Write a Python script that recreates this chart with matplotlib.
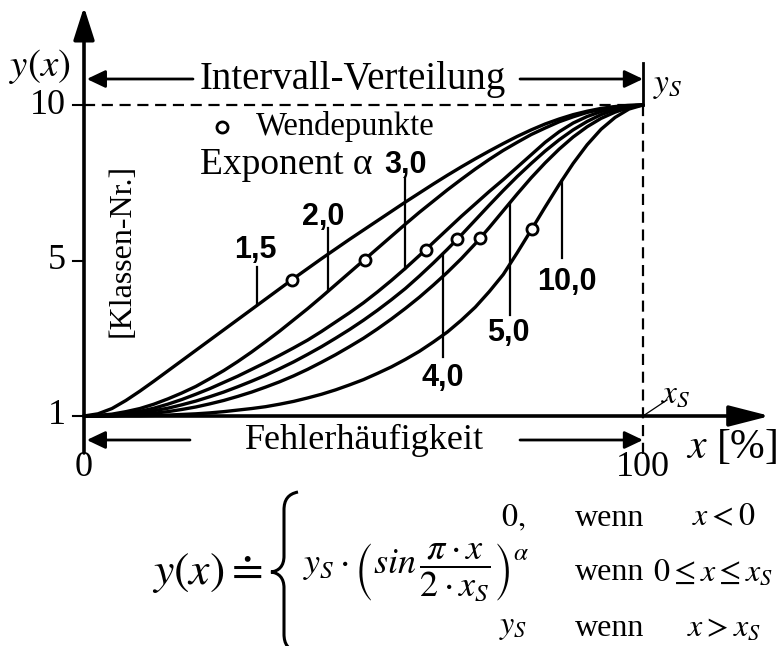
import numpy as np
import matplotlib.pyplot as plt
from matplotlib.path import Path
from matplotlib.patches import PathPatch

plt.rcParams['font.family'] = ['Liberation Serif', 'DejaVu Serif']
plt.rcParams['mathtext.fontset'] = 'stix'

# Fehlerhäufigkeit x [%] und Klassen-Nr. y(x) je Exponent alpha
x_pct = [0, 2.5, 5, 7.5, 10, 12.5, 15, 17.5, 20, 22.5, 25, 27.5, 30, 32.5, 35, 37.5, 40,
         42.5, 45, 47.5, 50, 52.5, 55, 57.5, 60, 62.5, 65, 67.5, 70, 72.5, 75, 77.5, 80,
         82.5, 85, 87.5, 90, 92.5, 95, 97.5, 100]
y_a15 = [0, 0.07, 0.24, 0.5, 0.8, 1.12, 1.45, 1.78, 2.11, 2.44, 2.77, 3.1, 3.43, 3.76, 4.09,
         4.42, 4.74, 5.06, 5.37, 5.68, 5.98, 6.28, 6.58, 6.88, 7.17, 7.46, 7.74, 8.01, 8.27,
         8.52, 8.76, 8.99, 9.2, 9.39, 9.55, 9.69, 9.8, 9.89, 9.95, 9.99, 10]
y_a20 = [0, 0.02, 0.06, 0.14, 0.24, 0.38, 0.55, 0.74, 0.95, 1.2, 1.46, 1.75, 2.06, 2.39, 2.73,
         3.09, 3.45, 3.83, 4.22, 4.61, 5.0, 5.39, 5.78, 6.17, 6.55, 6.91, 7.27, 7.61, 7.94,
         8.25, 8.54, 8.8, 9.05, 9.26, 9.46, 9.62, 9.76, 9.86, 9.94, 9.98, 10]
y_a30 = [0, 0.01, 0.03, 0.08, 0.15, 0.25, 0.38, 0.53, 0.7, 0.88, 1.08, 1.28, 1.5, 1.72, 1.95,
         2.19, 2.44, 2.72, 3.02, 3.32, 3.64, 3.99, 4.36, 4.75, 5.16, 5.58, 6.0, 6.42, 6.82,
         7.22, 7.6, 8.0, 8.4, 8.8, 9.14, 9.42, 9.63, 9.79, 9.9, 9.97, 10]
y_a40 = [0, 0, 0.02, 0.05, 0.1, 0.17, 0.25, 0.36, 0.48, 0.62, 0.77, 0.94, 1.12, 1.31, 1.52,
         1.74, 1.98, 2.23, 2.5, 2.78, 3.08, 3.4, 3.74, 4.1, 4.5, 4.92, 5.36, 5.82, 6.3,
         6.78, 7.25, 7.7, 8.12, 8.52, 8.88, 9.2, 9.47, 9.69, 9.85, 9.96, 10]
y_a50 = [0, 0, 0.01, 0.03, 0.05, 0.09, 0.14, 0.21, 0.29, 0.39, 0.5, 0.63, 0.77, 0.93, 1.1,
         1.29, 1.5, 1.73, 1.97, 2.23, 2.5, 2.8, 3.12, 3.46, 3.82, 4.21, 4.62, 5.06, 5.54,
         6.06, 6.6, 7.14, 7.66, 8.14, 8.58, 8.97, 9.3, 9.57, 9.77, 9.92, 10]
y_a100 = [0, 0, 0, 0.01, 0.01, 0.02, 0.03, 0.05, 0.07, 0.1, 0.14, 0.19, 0.24, 0.3, 0.38,
          0.47, 0.58, 0.7, 0.84, 1.0, 1.17, 1.37, 1.58, 1.82, 2.08, 2.38, 2.7, 3.08, 3.5,
          4.0, 4.55, 5.25, 5.98, 6.72, 7.44, 8.12, 8.72, 9.22, 9.6, 9.87, 10]

alpha_labels = ['1,5', '2,0', '3,0', '4,0', '5,0', '10,0']
# Wendepunkte (x-Lage) je Kurve
wende_x = [37.2, 50.2, 61.1, 66.8, 70.9, 80.1]
# Beschriftung: Position der Zahl, Lage der Hinweislinie und deren freies Ende
label_pos = [(30.6, 5.34), (42.8, 6.4), (57.6, 8.07), (64.2, 1.22), (75.9, 2.67), (86.3, 4.3)]
leader_x = [31.0, 43.7, 57.4, 64.2, 76.2, 85.5]
leader_end = [4.8, 6.05, 7.65, 1.9, 3.25, 5.08]

curves = [y_a15, y_a20, y_a30, y_a40, y_a50, y_a100]

W, H = 778, 646
fig = plt.figure(figsize=(W / 100, H / 100), dpi=100)
ax = fig.add_axes([84 / W, 1 - 416 / H, 559 / W, 311 / H])
ax.set_xlim(0, 100)
ax.set_ylim(0, 10)
ax.axis('off')


def dx(px):
    return (px - 84) / 5.59


def dy(py):
    return (416 - py) / 31.1


def arrow(x0, y0, x1, y1, lw=2.0, hl=1.0, hw=0.35, ms=16):
    ax.annotate('', xy=(x1, y1), xytext=(x0, y0), annotation_clip=False,
                arrowprops=dict(arrowstyle=f'-|>,head_length={hl},head_width={hw}',
                                lw=lw, color='black', mutation_scale=ms,
                                shrinkA=0, shrinkB=0))


# Kurven
for ys in curves:
    ax.plot(x_pct, ys, color='black', lw=2.4, solid_joinstyle='round',
            solid_capstyle='round', clip_on=False, zorder=3)

# Hinweislinien und Exponenten
for ys, lab, (tx, ty), lx, le in zip(curves, alpha_labels, label_pos, leader_x, leader_end):
    yc = np.interp(lx, x_pct, ys)
    ax.plot([lx, lx], [le, yc], color='black', lw=1.6, zorder=2, clip_on=False)
    ax.text(tx, ty, lab, ha='center', va='center', fontsize=22, fontweight='bold',
            family='Liberation Sans', zorder=4)

# Wendepunkte
wende_y = [np.interp(wx, x_pct, ys) for wx, ys in zip(wende_x, curves)]
ax.plot(wende_x, wende_y, 'o', ms=8, mfc='white', mec='black', mew=2, zorder=5)

# Achsen mit Pfeilen
arrow(0, dy(453), 0, dy(7), lw=2.6, hl=1.0, hw=0.32, ms=20)
arrow(0, 0, dx(770), 0, lw=2.6, hl=1.25, hw=0.32, ms=20)

# Skalenstriche und Beschriftung y
for yv, txt in zip([0, 5, 10], ['1', '5', '10']):
    ax.plot([dx(73), 0], [yv, yv], color='black', lw=1.5, clip_on=False)
    ax.text(dx(66), yv, txt, ha='right', va='center', fontsize=26)

# gestrichelte Grenzen bei y_S und x_S
ax.plot([0, 100], [10, 10], color='black', lw=1.6, ls=(0, (5, 3)), clip_on=False)
ax.plot([100, 100], [10, dy(456)], color='black', lw=1.6, ls=(0, (5, 3)), clip_on=False)

# Intervall-Verteilung
ytop = dy(79)
ax.text(dx(353), ytop, 'Intervall-Verteilung', ha='center', va='center', fontsize=28)
arrow(dx(193), ytop, 0.5, ytop, lw=2.0, hl=0.8, hw=0.38, ms=14)
arrow(dx(520), ytop, 100, ytop, lw=2.0, hl=0.8, hw=0.38, ms=14)
ax.plot([100, 100], [10, dy(63)], color='black', lw=2.0, clip_on=False)
ax.text(dx(668), dy(86), r'$y_S$', ha='center', va='center', fontsize=24)

# Fehlerhäufigkeit
ybot = dy(440)
ax.text(dx(365), ybot, 'Fehlerhäufigkeit', ha='center', va='center', fontsize=26)
arrow(dx(190), ybot, 0.5, ybot, lw=2.0, hl=0.8, hw=0.38, ms=14)
arrow(dx(520), ybot, 100, ybot, lw=2.0, hl=0.8, hw=0.38, ms=14)
ax.plot([100, dx(667)], [0, dy(400)], color='black', lw=0.9, clip_on=False)
ax.text(dx(676), dy(394), r'$x_S$', ha='center', va='center', fontsize=24)

ax.text(0, dy(468), '0', ha='center', va='center', fontsize=26)
ax.text(100, dy(468), '100', ha='center', va='center', fontsize=26)
ax.text(dx(732), dy(448), r'$x$ [%]', ha='center', va='center', fontsize=30)
ax.text(dx(40), dy(67), r'$y(x)$', ha='center', va='center', fontsize=28)

ax.text(dx(122), dy(250), '[Klassen-Nr.]', rotation=90, ha='center', va='center', fontsize=23)

# Legende
ax.plot([dx(222)], [dy(127)], 'o', ms=8, mfc='white', mec='black', mew=2, clip_on=False)
ax.text(dx(256), dy(127), 'Wendepunkte', ha='left', va='center', fontsize=23.5)
ax.text(dx(200), dy(165), 'Exponent α', ha='left', va='center', fontsize=27)


# Formel
def ftext(px, py, s, ha='center', size=23):
    fig.text(px / W, 1 - py / H, s, ha=ha, va='center', fontsize=size)


ftext(262, 573, r'$y(x) \doteq$', ha='right', size=33)
ftext(513, 518, r'$0,$')
ftext(303, 573, r'$y_S\cdot\left(sin\,\dfrac{\pi\cdot x}{2\cdot x_S}\right)^{\alpha}$',
      ha='left', size=26)
ftext(513, 628, r'$y_S$')
for py in [518, 573, 628]:
    ftext(610, py, 'wenn')
ftext(724, 518, r'$x < 0$')
ftext(713, 573, r'$0 \leq x \leq x_S$')
ftext(724, 628, r'$x > x_S$')

# geschweifte Klammer
pts = [(298, 492), (288, 494), (284, 500), (284, 510),
       (284, 556), (284, 566), (279, 571), (271, 572),
       (279, 573), (284, 578), (284, 588),
       (284, 634), (284, 644), (288, 650), (298, 652)]
codes = [Path.MOVETO, Path.CURVE4, Path.CURVE4, Path.CURVE4,
         Path.LINETO, Path.CURVE4, Path.CURVE4, Path.CURVE4,
         Path.CURVE4, Path.CURVE4, Path.CURVE4,
         Path.LINETO, Path.CURVE4, Path.CURVE4, Path.CURVE4]
verts = [(px / W, 1 - py / H) for px, py in pts]
fig.add_artist(PathPatch(Path(verts, codes), fill=False, lw=2.2,
                         transform=fig.transFigure))

fig.savefig('out.png', dpi=100)
